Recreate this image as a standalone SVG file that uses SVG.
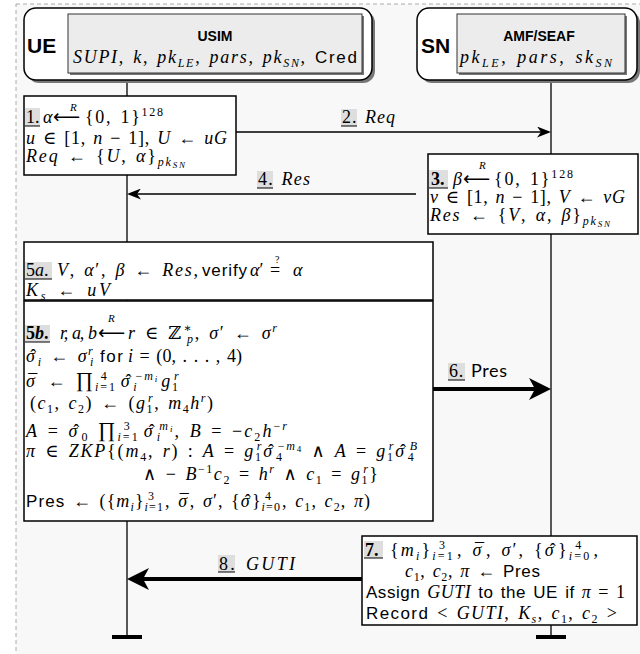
<svg xmlns="http://www.w3.org/2000/svg" width="640" height="654" viewBox="0 0 640 654">
<style>
.m{font-family:"Liberation Serif","DejaVu Serif",serif;font-size:18px;fill:#000;word-spacing:2px}
.i{font-style:italic}
.b{font-weight:bold}
.s{font-family:"Liberation Sans",Arial,sans-serif;font-style:normal;font-size:17px}
.sb{font-size:12px;baseline-shift:-4px}
.sp{font-size:12px;baseline-shift:7px}
.ss{font-size:9px;baseline-shift:-2px}
.big{font-size:21px}
.r{font-family:"Liberation Serif","DejaVu Serif",serif;font-size:11px;font-style:italic}
.ar{font-family:"DejaVu Sans",sans-serif;font-size:19px}
.box{fill:#fff;stroke:#000;stroke-width:1.5}
.hl{fill:#dedede}
.ul{stroke:#000;stroke-width:1}
.life{stroke:#000;stroke-width:1.3;fill:none}
.thin{stroke:#000;stroke-width:1.5;fill:none}
.thick{stroke:#000;stroke-width:4;fill:none}
.part{fill:#fff;stroke:#000;stroke-width:1.5}
.inner{fill:#ececec;stroke:#333;stroke-width:1}
.shadow{fill:#777}
.t1{font-family:"Liberation Sans",Arial,sans-serif;font-weight:bold;font-size:21px}
.t2{font-family:"Liberation Sans",Arial,sans-serif;font-weight:bold;font-size:14px}
</style>
<defs>
<marker id="ah" markerUnits="userSpaceOnUse" markerWidth="14" markerHeight="11" refX="4" refY="5.5" orient="auto">
<path d="M0,0 L14,5.5 L0,11 L4,5.5 z" fill="#000"/>
</marker>
<marker id="ahb" markerUnits="userSpaceOnUse" markerWidth="22" markerHeight="22" refX="6" refY="11" orient="auto">
<path d="M0,0 L22,11 L0,22 L6,11 z" fill="#000"/>
</marker>
</defs>
<rect x="0" y="0" width="640" height="654" fill="#fff"/>
<rect x="16" y="4" width="640" height="660" fill="#f8f8f8" stroke="#aaa" stroke-width="1" stroke-dasharray="4,3"/>

<g id="lifelines">
<line class="life" x1="127" y1="80" x2="127" y2="637"/>
<line class="life" x1="551" y1="80" x2="551" y2="637"/>
<rect x="112" y="635" width="30" height="4" fill="#000"/>
<rect x="536" y="635" width="30" height="4" fill="#000"/>
</g>

<g id="UE">
<rect class="shadow" x="27" y="11" width="348" height="72" rx="12"/>
<rect class="part" x="24" y="8" width="348" height="72" rx="12"/>
<rect class="shadow" x="70" y="16" width="294" height="59"/>
<rect class="inner" x="68" y="14" width="294" height="59"/>
<text class="t1" x="27" y="53">UE</text>
<text class="t2" x="215" y="41" text-anchor="middle">USIM</text>
<text class="m" x="73" y="63" textLength="284" lengthAdjust="spacing"><tspan class="i">SUPI</tspan>, <tspan class="i">k</tspan>, <tspan class="i">pk</tspan><tspan class="sb i">LE</tspan>, <tspan class="i">pars</tspan>, <tspan class="i">pk</tspan><tspan class="sb i">SN</tspan>, <tspan class="s">Cred</tspan></text>
</g>

<g id="SN">
<rect class="shadow" x="420" y="11" width="220" height="72" rx="12"/>
<rect class="part" x="417" y="8" width="220" height="72" rx="12"/>
<rect class="shadow" x="459" y="16" width="168" height="59"/>
<rect class="inner" x="457" y="14" width="168" height="59"/>
<text class="t1" x="421" y="53">SN</text>
<text class="t2" x="539" y="41" text-anchor="middle">AMF/SEAF</text>
<text class="m" x="460" y="63" textLength="152" lengthAdjust="spacing"><tspan class="i">pk</tspan><tspan class="sb i">LE</tspan>, <tspan class="i">pars</tspan>, <tspan class="i">sk</tspan><tspan class="sb i">SN</tspan></text>
</g>

<g id="connectors">
<line class="thin" x1="236" y1="132" x2="541" y2="132" marker-end="url(#ah)"/>
<line class="thin" x1="416" y1="194" x2="137" y2="194" marker-end="url(#ah)"/>
<line class="thick" x1="433" y1="389" x2="535" y2="389" marker-end="url(#ahb)"/>
<line class="thick" x1="362" y1="579" x2="143" y2="579" marker-end="url(#ahb)"/>
<rect class="hl" x="341" y="109" width="16" height="17"/>
<line class="ul" x1="341" y1="126" x2="357" y2="126"/>
<text class="m" x="342" y="123" textLength="53" lengthAdjust="spacing">2. <tspan class="i">Req</tspan></text>
<rect class="hl" x="257" y="171" width="16" height="17"/>
<line class="ul" x1="257" y1="188" x2="273" y2="188"/>
<text class="m" x="258" y="185" textLength="52" lengthAdjust="spacing">4. <tspan class="i">Res</tspan></text>
<rect class="hl" x="448" y="363" width="17" height="17"/>
<line class="ul" x1="448" y1="380" x2="465" y2="380"/>
<text class="m" x="449" y="377" textLength="58" lengthAdjust="spacing">6. <tspan style="font-family:Lato,'Liberation Sans',sans-serif">Pres</tspan></text>
<rect class="hl" x="218" y="555" width="17" height="17"/>
<line class="ul" x1="218" y1="572" x2="235" y2="572"/>
<text class="m" x="219" y="570" textLength="76" lengthAdjust="spacing">8. <tspan class="i">GUTI</tspan></text>
</g>

<g id="step1">
<rect class="box" x="24" y="96" width="212" height="79"/>
<rect class="hl" x="25" y="108" width="15" height="18"/>
<line class="ul" x1="25" y1="126" x2="40" y2="126"/>
<text class="m" x="26" y="123">1.</text>
<text class="m i" x="43" y="123">α</text>
<text class="ar" x="53" y="123">⟵</text>
<text class="r" x="70" y="111">R</text>
<text class="m" x="85" y="123" textLength="78" lengthAdjust="spacing">{0, 1}<tspan class="sp">128</tspan></text>
<text class="m" x="26" y="144" textLength="201" lengthAdjust="spacing"><tspan class="i">u</tspan> ∈ [1, <tspan class="i">n</tspan> − 1], <tspan class="i">U</tspan> ← <tspan class="i">uG</tspan></text>
<text class="m" x="26" y="162" textLength="159" lengthAdjust="spacing"><tspan class="i">Req</tspan> ← {<tspan class="i">U</tspan>, <tspan class="i">α</tspan>}<tspan class="sb i">pk<tspan class="ss">SN</tspan></tspan></text>
</g>

<g id="step3">
<rect class="box" x="428" y="154" width="210" height="80"/>
<rect class="hl" x="429" y="170" width="19" height="18"/>
<line class="ul" x1="429" y1="188" x2="448" y2="188"/>
<text class="m b" x="431" y="185">3.</text>
<text class="m i" x="453" y="185">β</text>
<text class="ar" x="463" y="185">⟵</text>
<text class="r" x="479" y="169">R</text>
<text class="m" x="494" y="185" textLength="79" lengthAdjust="spacing">{0, 1}<tspan class="sp">128</tspan></text>
<text class="m" x="430" y="203" textLength="195" lengthAdjust="spacing"><tspan class="i">v</tspan> ∈ [1, <tspan class="i">n</tspan> − 1], <tspan class="i">V</tspan> ← <tspan class="i">vG</tspan></text>
<text class="m" x="430" y="221" textLength="180" lengthAdjust="spacing"><tspan class="i">Res</tspan> ← {<tspan class="i">V</tspan>, <tspan class="i">α</tspan>, <tspan class="i">β</tspan>}<tspan class="sb i">pk<tspan class="ss">SN</tspan></tspan></text>
</g>

<g id="step5a">
<rect class="box" x="24" y="242" width="409" height="58"/>
<rect class="hl" x="25" y="262" width="27" height="17"/>
<line class="ul" x1="25" y1="279" x2="52" y2="279"/>
<text class="m" x="26" y="276">5<tspan class="i">a</tspan>.</text>
<text class="m" x="57" y="276" textLength="141" lengthAdjust="spacing"><tspan class="i">V</tspan>, <tspan class="i">α</tspan>′, <tspan class="i">β</tspan> ← <tspan class="i">Res</tspan>,</text>
<text class="s" x="202" y="276" textLength="45" lengthAdjust="spacing">verify</text>
<text class="m" x="250" y="276"><tspan class="i">α</tspan>′</text>
<text class="m" x="270" y="276">=</text>
<text class="r" x="275" y="263" style="font-style:normal;font-size:10px">?</text>
<text class="m i" x="293" y="276">α</text>
<text class="m" x="26" y="296" textLength="84" lengthAdjust="spacing"><tspan class="i">K</tspan><tspan class="sb i">s</tspan> ← <tspan class="i">uV</tspan></text>
</g>

<g id="step5b">
<rect class="box" x="24" y="301" width="409" height="220"/>
<rect class="hl" x="25" y="325" width="25" height="17"/>
<line class="ul" x1="25" y1="342" x2="50" y2="342"/>
<text class="m b" x="26" y="339">5<tspan class="i">b</tspan>.</text>
<text class="m i" x="60" y="339" textLength="37" lengthAdjust="spacing">r, a, b</text>
<text class="ar" x="98" y="339">⟵</text>
<text class="r" x="108" y="322">R</text>
<text class="m" x="128" y="339" textLength="149" lengthAdjust="spacing"><tspan class="i">r</tspan> ∈ ℤ<tspan class="sp">∗</tspan><tspan class="sb i" dx="-6">p</tspan>, <tspan class="i">σ</tspan>′ ← <tspan class="i">σ</tspan><tspan class="sp i">r</tspan></text>
<text class="m" x="26" y="362" textLength="68" lengthAdjust="spacing"><tspan class="i">σ</tspan><tspan dx="-6">ˆ</tspan><tspan class="sb i">i</tspan> ← <tspan class="i">σ</tspan><tspan class="sp i">r</tspan><tspan class="sb i" dx="-4">i</tspan></text>
<text class="s" x="100" y="362" textLength="23" lengthAdjust="spacing">for</text>
<text class="m" x="128" y="362" textLength="114" lengthAdjust="spacing"><tspan class="i">i</tspan> = (0, . . . , 4)</text>
<text class="m" x="26" y="387" textLength="154" lengthAdjust="spacing"><tspan class="i">σ</tspan><tspan dx="-8.5">¯</tspan> ← <tspan class="big">∏</tspan><tspan class="sb i">i</tspan><tspan class="sb">=1</tspan><tspan class="sp" dx="-16">4</tspan><tspan class="i" dx="12">σ</tspan><tspan dx="-6">ˆ</tspan><tspan class="sb i">i</tspan><tspan class="sp" dx="-3">−<tspan class="i">m</tspan><tspan class="ss i">i</tspan></tspan><tspan class="i" dx="2">g</tspan><tspan class="sb">1</tspan><tspan class="sp i" dx="-6">r</tspan></text>
<text class="m" x="30" y="409" textLength="183" lengthAdjust="spacing">(<tspan class="i">c</tspan><tspan class="sb">1</tspan>, <tspan class="i">c</tspan><tspan class="sb">2</tspan>) ← (<tspan class="i">g</tspan><tspan class="sb">1</tspan><tspan class="sp i" dx="-6">r</tspan>, <tspan class="i">m</tspan><tspan class="sb">4</tspan><tspan class="i">h</tspan><tspan class="sp i">r</tspan>)</text>
<text class="m" x="26" y="437" textLength="261" lengthAdjust="spacing"><tspan class="i">A</tspan> = <tspan class="i">σ</tspan><tspan dx="-6">ˆ</tspan><tspan class="sb">0</tspan> <tspan class="big">∏</tspan><tspan class="sb i">i</tspan><tspan class="sb">=1</tspan><tspan class="sp" dx="-16">3</tspan><tspan class="i" dx="12">σ</tspan><tspan dx="-6">ˆ</tspan><tspan class="sb i">i</tspan><tspan class="sp i" dx="-3">m<tspan class="ss">i</tspan></tspan>, <tspan class="i">B</tspan> = −<tspan class="i">c</tspan><tspan class="sb">2</tspan><tspan class="i">h</tspan><tspan class="sp">−<tspan class="i">r</tspan></tspan></text>
<text class="m" x="26" y="457" textLength="391" lengthAdjust="spacing"><tspan class="i">π</tspan> ∈ <tspan class="i">ZKP</tspan>{(<tspan class="i">m</tspan><tspan class="sb">4</tspan>, <tspan class="i">r</tspan>) : <tspan class="i">A</tspan> = <tspan class="i">g</tspan><tspan class="sb">1</tspan><tspan class="sp i" dx="-6">r</tspan><tspan class="i">σ</tspan><tspan dx="-6">ˆ</tspan><tspan class="sb">4</tspan><tspan class="sp" dx="-6">−<tspan class="i">m</tspan><tspan class="ss">4</tspan></tspan> ∧ <tspan class="i">A</tspan> = <tspan class="i">g</tspan><tspan class="sb">1</tspan><tspan class="sp i" dx="-6">r</tspan><tspan class="i">σ</tspan><tspan dx="-6">ˆ</tspan><tspan class="sb">4</tspan><tspan class="sp i" dx="-6">B</tspan></text>
<text class="m" x="143" y="480" textLength="235" lengthAdjust="spacing">∧ − <tspan class="i">B</tspan><tspan class="sp">−1</tspan><tspan class="i">c</tspan><tspan class="sb">2</tspan> = <tspan class="i">h</tspan><tspan class="sp i">r</tspan> ∧ <tspan class="i">c</tspan><tspan class="sb">1</tspan> = <tspan class="i">g</tspan><tspan class="sb">1</tspan><tspan class="sp i" dx="-6">r</tspan>}</text>
<text class="m" x="26" y="507" textLength="344" lengthAdjust="spacing"><tspan class="s">Pres</tspan> ← ({<tspan class="i">m</tspan><tspan class="sb i">i</tspan>}<tspan class="sb i">i</tspan><tspan class="sb">=1</tspan><tspan class="sp" dx="-16">3</tspan><tspan dx="10">,</tspan> <tspan class="i">σ</tspan><tspan dx="-8.5">¯</tspan>, <tspan class="i">σ</tspan>′, {<tspan class="i">σ</tspan><tspan dx="-6">ˆ</tspan>}<tspan class="sb i">i</tspan><tspan class="sb">=0</tspan><tspan class="sp" dx="-16">4</tspan><tspan dx="10">,</tspan> <tspan class="i">c</tspan><tspan class="sb">1</tspan>, <tspan class="i">c</tspan><tspan class="sb">2</tspan>, <tspan class="i">π</tspan>)</text>
</g>

<g id="step7">
<rect class="box" x="362" y="536" width="275" height="89"/>
<rect class="hl" x="364" y="541" width="19" height="17"/>
<line class="ul" x1="364" y1="558" x2="383" y2="558"/>
<text class="m b" x="365" y="556">7.</text>
<text class="m" x="390" y="556" textLength="208" lengthAdjust="spacing">{<tspan class="i">m</tspan><tspan class="sb i">i</tspan>}<tspan class="sb i">i</tspan><tspan class="sb">=1</tspan><tspan class="sp" dx="-16">3</tspan><tspan dx="10">,</tspan> <tspan class="i">σ</tspan><tspan dx="-8.5">¯</tspan>, <tspan class="i">σ</tspan>′, {<tspan class="i">σ</tspan><tspan dx="-6">ˆ</tspan>}<tspan class="sb i">i</tspan><tspan class="sb">=0</tspan><tspan class="sp" dx="-16">4</tspan><tspan dx="10">,</tspan></text>
<text class="m" x="405" y="577" textLength="135" lengthAdjust="spacing"><tspan class="i">c</tspan><tspan class="sb">1</tspan>, <tspan class="i">c</tspan><tspan class="sb">2</tspan>, <tspan class="i">π</tspan> ← <tspan class="s">Pres</tspan></text>
<text class="m" x="366" y="598" textLength="259" lengthAdjust="spacing"><tspan class="s">Assign</tspan> <tspan class="i">GUTI</tspan> <tspan class="s">to the UE if</tspan> <tspan class="i">π</tspan> = 1</text>
<text class="m" x="366" y="619" textLength="251" lengthAdjust="spacing"><tspan class="s">Record</tspan> &lt; <tspan class="i">GUTI</tspan>, <tspan class="i">K</tspan><tspan class="sb i">s</tspan>, <tspan class="i">c</tspan><tspan class="sb">1</tspan>, <tspan class="i">c</tspan><tspan class="sb">2</tspan> &gt;</text>
</g>
</svg>
